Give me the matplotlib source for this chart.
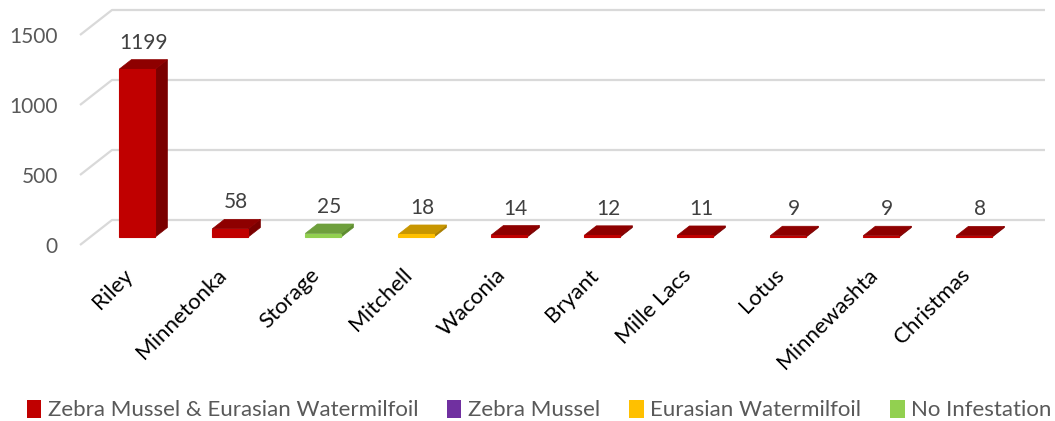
import matplotlib
matplotlib.use("Agg")
import matplotlib.pyplot as plt
from matplotlib.patches import Polygon, Patch

# ---- data ----
lakes = ["Riley", "Minnetonka", "Storage", "Mitchell", "Waconia", "Bryant",
         "Mille Lacs", "Lotus", "Minnewashta", "Christmas"]
counts = [1199, 58, 25, 18, 14, 12, 11, 9, 9, 8]
status = ["ZM+EW", "ZM+EW", "None", "EW", "ZM+EW", "ZM+EW",
          "ZM+EW", "ZM+EW", "ZM+EW", "ZM+EW"]
legend_keys = ["ZM+EW", "ZM", "EW", "None"]
legend_labels = ["Zebra Mussel & Eurasian Watermilfoil", "Zebra Mussel",
                 "Eurasian Watermilfoil", "No Infestation"]
yticks = [0, 500, 1000, 1500]

# ---- styles ----
colors = {  # front, side, top
    "ZM+EW": ("#C00000", "#7A0000", "#8E0000"),
    "ZM": ("#7030A0", "#4A1F6B", "#5A2585"),
    "EW": ("#FFC000", "#A87E00", "#C89600"),
    "None": ("#92D050", "#5E8C30", "#6E9F3C"),
}
legend_colors = {"ZM+EW": "#C00000", "ZM": "#7030A0", "EW": "#FFC000", "None": "#92D050"}

FONT = "Lato"
W, H = 1055, 421
DPI = 100
fig = plt.figure(figsize=(W / DPI, H / DPI), dpi=DPI)
ax = fig.add_axes([0, 0, 1, 1])
ax.set_axis_off()

# pixel mapping: x_px = X0 + SX * i ; y_px(from top) = Y0 - SY * v
X0, SX = 127.0, 93.0
Y0, SY = 245.0, 0.14
ax.set_xlim(-X0 / SX, (W - X0) / SX)
ax.set_ylim((Y0 - H) / SY, Y0 / SY)

DX = 32.0 / SX      # depth offset (category units)
DY = 25.0 / SY      # depth offset (value units)
d0, d1 = 0.32, 0.70  # bar depth range
bw = 36.0 / SX       # bar width

x_left = (80 - X0) / SX
x_right = (1045 - X0) / SX - DX
grid_c = "#D9D9D9"
for t in yticks:
    ax.plot([x_left, x_left + DX, x_right + DX], [t, t + DY, t + DY],
            color=grid_c, lw=1.6, solid_capstyle="butt", zorder=1)
    ax.text((58 - X0) / SX, t - 2 / SY, f"{t}", ha="right", va="center",
            fontsize=15, color="#595959", family=FONT)

for i, (v, s) in enumerate(zip(counts, status)):
    fc, sc, tc = colors[s]
    xa, xb = i - bw / 2, i + bw / 2
    front = [(xa + d0 * DX, d0 * DY), (xb + d0 * DX, d0 * DY),
             (xb + d0 * DX, v + d0 * DY), (xa + d0 * DX, v + d0 * DY)]
    side = [(xb + d0 * DX, d0 * DY), (xb + d1 * DX, d1 * DY),
            (xb + d1 * DX, v + d1 * DY), (xb + d0 * DX, v + d0 * DY)]
    top = [(xa + d0 * DX, v + d0 * DY), (xb + d0 * DX, v + d0 * DY),
           (xb + d1 * DX, v + d1 * DY), (xa + d1 * DX, v + d1 * DY)]
    ax.add_patch(Polygon(side, closed=True, facecolor=sc, edgecolor=sc, lw=0.5, zorder=3))
    ax.add_patch(Polygon(top, closed=True, facecolor=tc, edgecolor=tc, lw=0.5, zorder=3))
    ax.add_patch(Polygon(front, closed=True, facecolor=fc, edgecolor=fc, lw=0.8, zorder=4))
    ax.annotate(f"{v}", xy=(i + (d0 + d1) / 2 * DX, v + d1 * DY),
                xytext=(0, 5), textcoords="offset points", ha="center", va="bottom",
                fontsize=15, color="#404040", family=FONT)
    ax.text(i - 4 / SX, (Y0 - 265) / SY, lakes[i], rotation=45, rotation_mode="anchor",
            ha="right", va="top", fontsize=16, color="#000000", family=FONT)

handles = [Patch(facecolor=legend_colors[k], edgecolor="none") for k in legend_keys]
fig.legend(handles, legend_labels, loc="center", bbox_to_anchor=(0.511, 1 - 410 / H),
           ncol=4, frameon=False, handlelength=0.65, handleheight=0.9,
           handletextpad=0.3, columnspacing=1.3,
           prop={"family": FONT, "size": 16}, labelcolor="#595959")

fig.savefig("out.png", dpi=DPI)
